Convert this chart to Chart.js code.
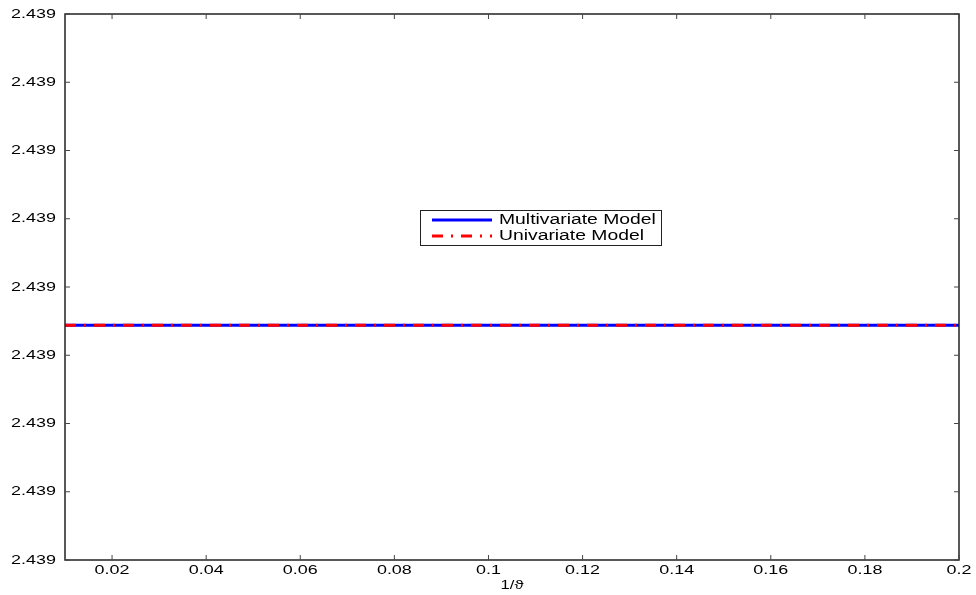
<!DOCTYPE html>
<html>
<head>
<meta charset="utf-8">
<script src="https://cdn.jsdelivr.net/npm/chart.js@4"></script>
<style>
  html, body { margin: 0; padding: 0; background: #fff; }
  #wrap { width: 976px; height: 595px; }
</style>
</head>
<body>
<div id="wrap"><canvas id="myChart" width="976" height="595"></canvas></div>
<script>
// data
const xValues = [0.01, 0.2];
const multivariate = [2.4389944, 2.4389944];
const univariate = [2.4389944, 2.4389944];
const xTicks = [0.02, 0.04, 0.06, 0.08, 0.1, 0.12, 0.14, 0.16, 0.18, 0.2];
const yTicks = [2.43896, 2.43897, 2.43898, 2.43899, 2.439, 2.43901, 2.43902, 2.43903, 2.43904];
const xLabel = '1/\u03D1';

const font = '"Liberation Sans", Arial, sans-serif';
const stretch = 1.38; // the matlab export has horizontally wide lettering

// text drawn with a horizontal stretch
function wideText(ctx, text, x, y, align, size) {
  ctx.save();
  ctx.font = size + 'px ' + font;
  ctx.fillStyle = '#000';
  ctx.textBaseline = 'middle';
  ctx.textAlign = align;
  ctx.translate(x, y);
  ctx.scale(stretch, 1);
  ctx.fillText(text, 0, 0);
  ctx.restore();
}

// MATLAB style box, inward ticks on all four sides, tick labels
const boxPlugin = {
  id: 'box',
  afterDatasetsDraw(chart) {
    const { ctx, chartArea: a, scales } = chart;
    ctx.save();
    ctx.strokeStyle = '#222';
    ctx.lineWidth = 1.5;
    ctx.strokeRect(a.left, a.top, a.right - a.left, a.bottom - a.top);
    ctx.lineWidth = 1;
    ctx.strokeStyle = '#444';
    const len = 5;
    xTicks.forEach((t) => {
      const px = scales.x.getPixelForValue(t);
      ctx.beginPath();
      ctx.moveTo(px, a.bottom); ctx.lineTo(px, a.bottom - len);
      ctx.moveTo(px, a.top); ctx.lineTo(px, a.top + len);
      ctx.stroke();
      wideText(ctx, String(Math.round(t * 100) / 100), px, a.bottom + 10, 'center', 13);
    });
    yTicks.forEach((t) => {
      const py = scales.y.getPixelForValue(t);
      ctx.beginPath();
      ctx.moveTo(a.left, py); ctx.lineTo(a.left + len, py);
      ctx.moveTo(a.right, py); ctx.lineTo(a.right - len, py);
      ctx.stroke();
      wideText(ctx, t.toFixed(3), a.left - 9, py, 'right', 13);
    });
    wideText(ctx, xLabel, (a.left + a.right) / 2, a.bottom + 26, 'center', 12);
    ctx.restore();
  }
};

// legend box placed inside the axes like the reference
const legendPlugin = {
  id: 'innerLegend',
  afterDraw(chart) {
    const { ctx } = chart;
    const x0 = 420, y0 = 210, w = 241, h = 35;
    ctx.save();
    ctx.fillStyle = '#fff';
    ctx.fillRect(x0, y0, w, h);
    ctx.strokeStyle = '#222';
    ctx.lineWidth = 1;
    ctx.strokeRect(x0 + 0.5, y0 + 0.5, w, h);
    chart.data.datasets.forEach((ds, i) => {
      const y = y0 + 10 + i * 16;
      ctx.strokeStyle = ds.borderColor;
      ctx.lineWidth = ds.borderWidth;
      ctx.setLineDash(ds.borderDash || []);
      ctx.beginPath();
      ctx.moveTo(x0 + 12, y);
      ctx.lineTo(x0 + 72, y);
      ctx.stroke();
      ctx.setLineDash([]);
      wideText(ctx, ds.label, x0 + 79, y, 'left', 14);
    });
    ctx.restore();
  }
};

const ctx = document.getElementById('myChart').getContext('2d');
new Chart(ctx, {
  type: 'line',
  data: {
    datasets: [
      {
        label: 'Multivariate Model',
        data: xValues.map((x, i) => ({ x, y: multivariate[i] })),
        borderColor: '#0000ff',
        borderWidth: 3,
        pointRadius: 0,
        fill: false,
        order: 2,
      },
      {
        label: 'Univariate Model',
        data: xValues.map((x, i) => ({ x, y: univariate[i] })),
        borderColor: '#ff0000',
        borderWidth: 3,
        borderDash: [11, 8, 2, 8],
        pointRadius: 0,
        fill: false,
        order: 1,
      },
    ],
  },
  options: {
    responsive: false,
    animation: false,
    layout: { padding: { top: 14, right: 17, left: 0, bottom: 0 } },
    plugins: { legend: { display: false }, tooltip: { enabled: false } },
    scales: {
      x: {
        type: 'linear',
        min: 0.01,
        max: 0.2,
        afterBuildTicks: (s) => { s.ticks = xTicks.map((v) => ({ value: v })); },
        afterFit: (s) => { s.height = 35; },
        grid: { display: false, drawTicks: false },
        border: { display: false },
        ticks: { display: false },
      },
      y: {
        type: 'linear',
        min: yTicks[0],
        max: yTicks[yTicks.length - 1],
        afterBuildTicks: (s) => { s.ticks = yTicks.map((v) => ({ value: v })); },
        afterFit: (s) => { s.width = 65; },
        grid: { display: false, drawTicks: false },
        border: { display: false },
        ticks: { display: false },
      },
    },
  },
  plugins: [boxPlugin, legendPlugin],
});
</script>
</body>
</html>
